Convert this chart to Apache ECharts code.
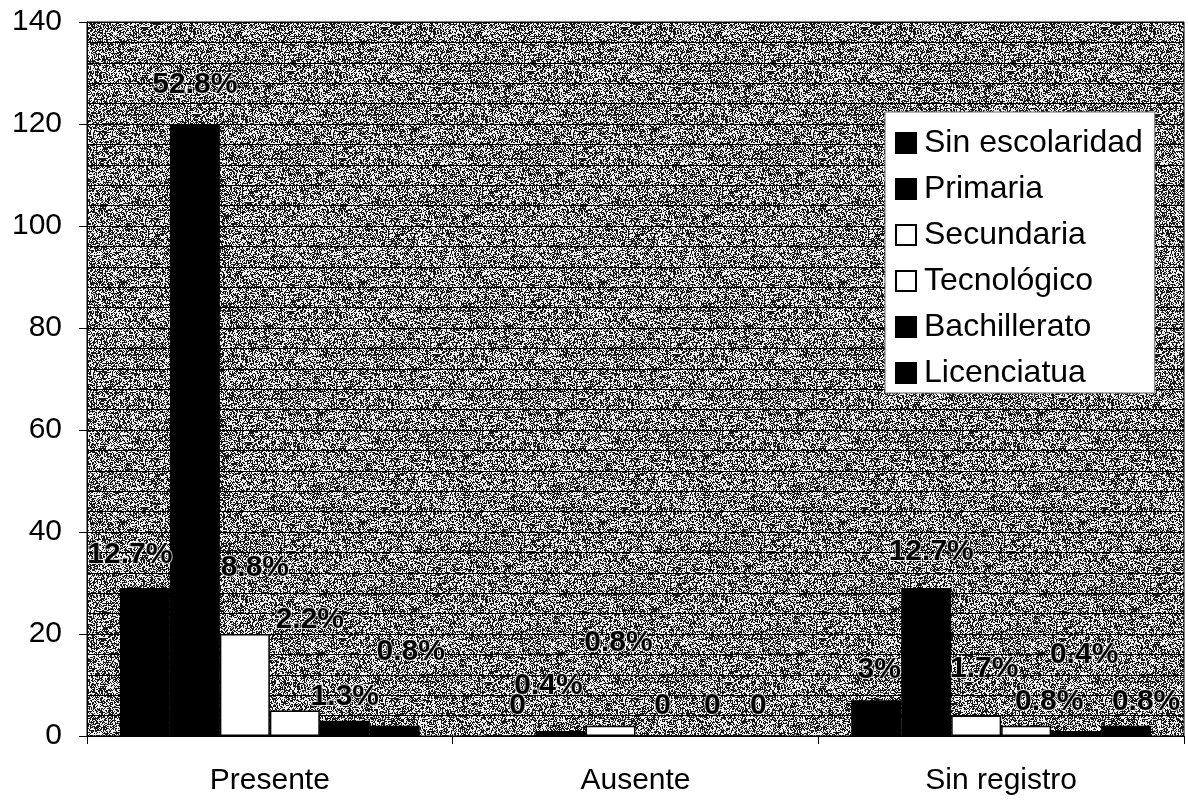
<!DOCTYPE html>
<html>
<head>
<meta charset="utf-8">
<script src="https://cdn.jsdelivr.net/npm/echarts@6/dist/echarts.min.js"></script>
<style>
html,body{margin:0;padding:0;background:#fff;}
#chart{width:1188px;height:800px;}
</style>
</head>
<body>
<div id="chart"></div>
<script>
// ---- data ----
const categories = ['Presente', 'Ausente', 'Sin registro'];
const seriesNames = ['Sin escolaridad', 'Primaria', 'Secundaria', 'Tecnológico', 'Bachillerato', 'Licenciatua'];
const sinEscolaridad = [29, 0, 7];
const primaria = [120, 1, 29];
const secundaria = [20, 2, 4];
const tecnologico = [5, 0, 2];
const bachillerato = [3, 0, 1];
const licenciatura = [2, 0, 2];
const pctSinEscolaridad = ['12.7%', '0', '3%'];
const pctPrimaria = ['52.8%', '0.4%', '12.7%'];
const pctSecundaria = ['8.8%', '0.8%', '1.7%'];
const pctTecnologico = ['2.2%', '0', '0.8%'];
const pctBachillerato = ['1.3%', '0', '0.4%'];
const pctLicenciatura = ['0.8%', '0', '0.8%'];
const yTicks = [0, 20, 40, 60, 80, 100, 120, 140];

// ---- layout / style (not data) ----
const labelOffsets = [
  [[-15, -13], [7, -10], [3, -11]],
  [[0, -19], [-12, -25], [5, -16]],
  [[10, -46], [8, -63], [8, -27]],
  [[15, -71], [2, -10], [23, -4]],
  [[0, -4], [2, -10], [8, -56]],
  [[16, -54], [-2, -10], [20, -4]]
];
const fills = ['#000', '#000', '#fff', '#fff', '#000', '#000'];
const allValues = [sinEscolaridad, primaria, secundaria, tecnologico, bachillerato, licenciatura];
const allPct = [pctSinEscolaridad, pctPrimaria, pctSecundaria, pctTecnologico, pctBachillerato, pctLicenciatura];

// texture for plot background (deterministic)
function makeTexture() {
  const c = document.createElement('canvas');
  c.width = 240; c.height = 240;
  const ctx = c.getContext('2d');
  const img = ctx.createImageData(240, 240);
  let s = 12345;
  function rnd() { s = (s * 1103515245 + 12345) & 0x7fffffff; return s / 0x7fffffff; }
  for (let y = 0; y < 240; y++) {
    for (let x = 0; x < 240; x++) {
      const v = rnd() < 0.5 ? 25 : 240;
      const i = (y * 240 + x) * 4;
      img.data[i] = v; img.data[i + 1] = v; img.data[i + 2] = v; img.data[i + 3] = 255;
    }
  }
  ctx.putImageData(img, 0, 0);
  return c;
}

const FONT = 'Arial, "Liberation Sans", sans-serif';
const chart = echarts.init(document.getElementById('chart'), null, {renderer: 'canvas'});

const series = seriesNames.map((name, si) => ({
  name: name,
  type: 'bar',
  barGap: '0%',
  barCategoryGap: '18%',
  itemStyle: {color: fills[si], borderColor: '#000', borderWidth: 1.5},
  data: allValues[si].map((v, ci) => ({
    value: v,
    label: {
      show: true,
      position: 'top',
      distance: 5,
      offset: labelOffsets[si][ci],
      formatter: allPct[si][ci],
      fontFamily: FONT,
      fontWeight: 'bold',
      fontSize: 30,
      color: '#000',
      textBorderColor: 'rgba(255,255,255,0.7)',
      textBorderWidth: 2
    }
  }))
}));

chart.setOption({
  backgroundColor: '#fff',
  animation: false,
  grid: {
    left: 87, right: 4, top: 22, bottom: 64,
    show: true,
    backgroundColor: {image: makeTexture(), repeat: 'repeat'},
    borderColor: '#000', borderWidth: 1
  },
  legend: {
    orient: 'vertical',
    left: 885, top: 112,
    backgroundColor: '#fff',
    borderColor: '#666', borderWidth: 1,
    padding: [15, 12, 4, 10],
    itemWidth: 20, itemHeight: 20,
    itemGap: 14,
    textStyle: {fontFamily: FONT, fontSize: 32, color: '#000', lineHeight: 32, padding: [0, 0, 0, 3]},
    data: seriesNames.map(n => ({name: n, icon: 'rect'}))
  },
  xAxis: {
    type: 'category',
    data: categories,
    axisLine: {show: true, lineStyle: {color: '#000', width: 1}},
    axisTick: {show: true, length: 8, lineStyle: {color: '#000'}},
    axisLabel: {fontFamily: FONT, fontSize: 30, color: '#000', margin: 30}
  },
  yAxis: {
    type: 'value',
    min: 0, max: 140, interval: 20,
    axisLine: {show: true, lineStyle: {color: '#000', width: 1}},
    axisTick: {show: true, length: 8, lineStyle: {color: '#000'}},
    axisLabel: {fontFamily: FONT, fontSize: 30, color: '#000', margin: 25,
      formatter: v => (yTicks.indexOf(v) >= 0 ? String(v) : '')},
    splitLine: {show: true, lineStyle: {color: '#000', width: 1}},
    minorTick: {show: false, splitNumber: 5},
    minorSplitLine: {show: true, lineStyle: {color: '#000', width: 1}}
  },
  series: series
});
</script>
</body>
</html>
